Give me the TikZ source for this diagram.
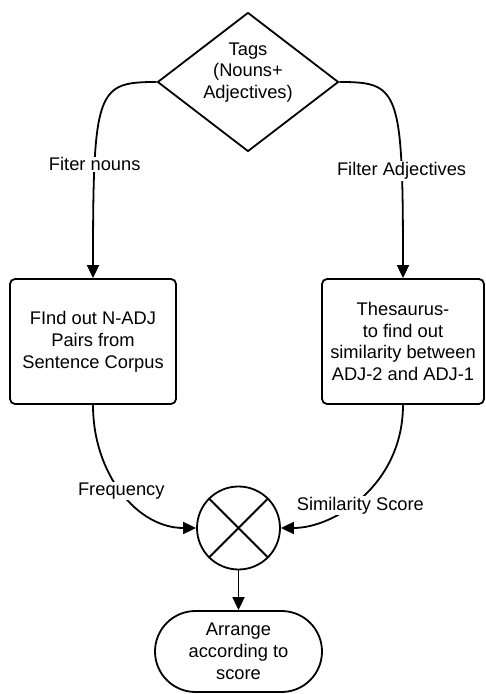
\documentclass[tikz,border=0pt]{standalone}
\usepackage{fontspec}
\setmainfont{Liberation Sans}
\usetikzlibrary{shapes.geometric, shapes.misc, arrows.meta, positioning}

\begin{document}
\begin{tikzpicture}[
  x=1pt, y=1pt, line width=1.8pt, line join=round,
  every node/.style={font=\fontsize{18.3}{21.8}\selectfont},
  box/.style={draw, rounded corners=5pt, align=center, minimum height=125pt, inner sep=0pt},
  decision/.style={draw, diamond, inner sep=0pt, minimum width=181pt, minimum height=139pt},
  term/.style={draw, rounded rectangle, align=center, minimum width=167pt, minimum height=81pt, inner sep=0pt},
  mix/.style={draw, circle, minimum size=83pt, inner sep=0pt},
  flow/.style={-{Triangle[length=13pt, width=12pt]}},
  lbl/.style={fill=white, inner sep=1pt}
]
  \useasboundingbox (0,0) rectangle (485,694);

  % Tags diamond
  \node[decision] (tags) at (248,612) {};
  \node[align=center] (tagstext) at (248,621.5) {Tags\\(Nouns+\\Adjectives)};

  % Two processing boxes
  \node[box, minimum width=166pt] (pairs) at (93,352.5) {FInd out N-ADJ\\Pairs from\\Sentence Corpus};
  \node[box, minimum width=162pt] (thes) at (403,352.5) {Thesaurus-\\to find out\\similarity between\\ADJ-2 and ADJ-1};

  % Multiplier
  \node[mix] (mult) at (238.5,166) {};
  \draw (mult.north west) -- (mult.south east);
  \draw (mult.north east) -- (mult.south west);

  % Result
  \node[term] (arrange) at (238.5,42.5) {Arrange\\according to\\score};

  % Arrows down from tags
  \draw[flow] (tags.west) .. controls (97,612) and (93,605) .. (pairs.north) node[lbl, pos=0.74] {Fiter nouns};
  \draw[flow] (tags.east) .. controls (399,612) and (403,605) .. (thes.north) node[lbl, pos=0.76] {Filter Adjectives};

  % Arrows into multiplier
  \draw[flow] (pairs.south) .. controls (93,220) and (137,166) .. (mult.west) node[lbl, pos=0.49] {Frequency};
  \draw[flow] (thes.south) .. controls (403,210) and (335,166) .. (mult.east) node[lbl, pos=0.58, xshift=10pt] {Similarity Score};

  % Arrow out
  \draw[flow] (mult.south) -- (arrange.north);
\end{tikzpicture}
\end{document}
